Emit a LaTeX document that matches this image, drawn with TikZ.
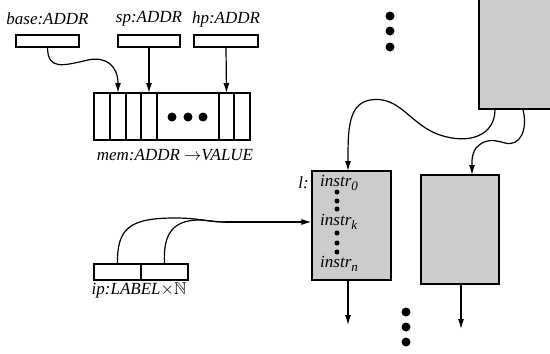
\documentclass[tikz,border=0pt]{standalone}
\usepackage{amssymb}
\usepackage{fontspec}
\setmainfont{Liberation Serif}
\usetikzlibrary{arrows.meta}
\newcommand{\mysub}[1]{\raisebox{-4.5pt}{\fontsize{13}{13}\selectfont #1}}
\begin{document}
\begin{tikzpicture}[x=1pt,y=-1pt,
  lbl/.style={font=\fontsize{17}{20}\selectfont\itshape, inner sep=0pt},
  reg/.style={draw, line width=1.2pt, minimum height=12pt, inner sep=0pt},
  blk/.style={draw, line width=1.2pt, fill=black!20, inner sep=0pt},
  conn/.style={line width=1.2pt, -{Latex[length=10pt,width=6pt]}},
  wire/.style={line width=1.2pt},
  bigdot/.style={fill, circle, inner sep=0pt, minimum size=9pt},
  smalldot/.style={fill, circle, inner sep=0pt, minimum size=5pt}]
\useasboundingbox (0,0) rectangle (550,354);
\begin{scope}
\clip (0,0) rectangle (550,354);
% registers
\node[reg, minimum width=63pt] (base) at (47.5,41) {};
\node[reg, minimum width=62pt] (sp) at (149,41) {};
\node[reg, minimum width=64pt] (hp) at (226,41) {};
\node[lbl] (baselbl) at (47.5,19) {base:ADDR};
\node[lbl] (splbl) at (149,19) {sp:ADDR};
\node[lbl] (hplbl) at (226,19) {hp:ADDR};
% memory
\node[draw, line width=1.2pt, minimum width=156pt, minimum height=47pt, inner sep=0pt] (mem) at (172,116.5) {};
\foreach \xx in {110,126,141,157,219,234} {
  \draw[line width=1.2pt] (\xx,93) -- (\xx,140);
}
\node[bigdot] (m1) at (172,117) {};
\node[bigdot] (m2) at (188,117) {};
\node[bigdot] (m3) at (203,117) {};
\node[lbl] (memlbl) at (175,155) {mem:ADDR $\rightarrow$VALUE};
\coordinate (c2) at (118,93);
\coordinate (c4) at (149,93);
\coordinate (c7) at (226.5,93);
\draw[conn] (base.south) .. controls (48,70) and (62,66) .. (88,60) .. controls (106,56) and (118,66) .. (c2);
\draw[conn] (sp.south) -- (c4);
\draw[conn] (hp.south) -- (c7);
% top dots
\node[bigdot] (t1) at (390,16) {};
\node[bigdot] (t2) at (390,31) {};
\node[bigdot] (t3) at (390,47) {};
% top-right block
\node[blk, minimum width=75pt, minimum height=112pt] (top) at (516.5,53) {};
\coordinate (tA) at (495,109.5);
\coordinate (tB) at (523,109.5);
% blocks
\node[blk, minimum width=79pt, minimum height=109pt] (l) at (351.5,225.5) {};
\node[blk, minimum width=78pt, minimum height=109pt] (b2) at (460,229.5) {};
\node[lbl, anchor=east] (llbl) at (309,183) {l:};
\node[lbl, anchor=base west] (i0) at (320,186) {instr\mysub{0}};
\node[lbl, anchor=base west] (ik) at (320,225) {instr\mysub{k}};
\node[lbl, anchor=base west] (in) at (320,267) {instr\mysub{n}};
\node[smalldot] at (337,192) {};
\node[smalldot] at (337,201) {};
\node[smalldot] at (337,209) {};
\node[smalldot] at (337,233) {};
\node[smalldot] at (337,243) {};
\node[smalldot] at (337,252) {};
\draw[conn] (tA) .. controls (495,135) and (470,145) .. (440,135) .. controls (410,125) and (400,95) .. (370,100) .. controls (348,104) and (348,130) .. (348,171);
\draw[conn] (tB) .. controls (528,130) and (520,147) .. (505,143) .. controls (495,140) and (485,138) .. (476,148) .. controls (471,155) and (472,165) .. (472,175);
% bottom arrows
\coordinate (lend) at (348,325);
\coordinate (b2end) at (461,329);
\draw[conn] (l.south -| lend) -- (lend);
\draw[conn] (b2.south -| b2end) -- (b2end);
\node[bigdot] (d1) at (406,312) {};
\node[bigdot] (d2) at (406,327) {};
\node[bigdot] (d3) at (406,342) {};
% ip
\node[reg, minimum width=47pt, minimum height=16pt] (ip1) at (117.5,272) {};
\node[reg, minimum width=47pt, minimum height=16pt] (ip2) at (164.5,272) {};
\node[lbl] (iplbl) at (139,290) {ip:LABEL$\times\mathbb{N}$};
\coordinate (merge) at (225,222);
\draw[wire] (ip1.north) .. controls (117,228) and (130,218) .. (175,218) .. controls (200,218) and (207,222) .. (merge);
\draw[wire] (ip2.north) .. controls (163,235) and (172,221) .. (197,220) .. controls (208,220) and (214,222) .. (merge);
\draw[conn] (merge) -- (l.west |- merge);
\end{scope}
\end{tikzpicture}
\end{document}
